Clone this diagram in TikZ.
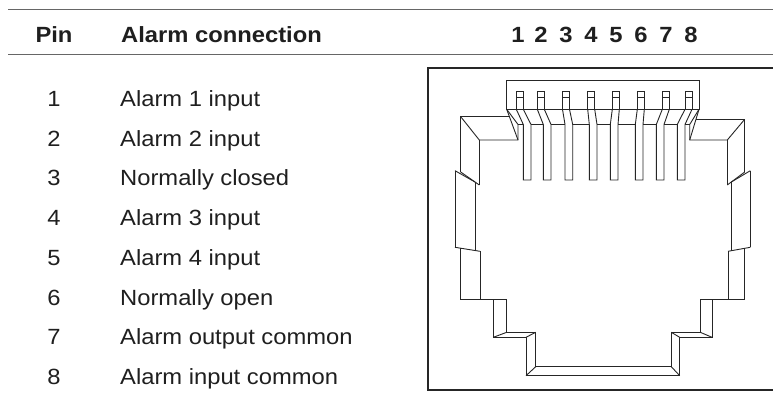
\documentclass[tikz,border=0pt]{standalone}
\usepackage{fontspec}
\setmainfont{Liberation Sans}[FakeStretch=1.08]
\begin{document}
\begin{tikzpicture}[x=1pt,y=-1pt,
  txt/.style={font=\fontsize{22}{26}\selectfont, text=black!88, inner sep=0pt},
  hdr/.style={font=\fontsize{22}{26}\selectfont\bfseries, text=black!88, inner sep=0pt},
  rule/.style={line width=1pt, draw=black!60},
  frame/.style={line width=2pt, draw=black!85},
  jack/.style={line width=0.9pt, draw=black!85, line join=miter}]
\useasboundingbox (0,0) rectangle (773,404);
\fill[white] (0,0) rectangle (773,404);
% header rules
\coordinate (t1) at (8,9.5);   \coordinate (t2) at (773,9.5);
\coordinate (u1) at (8,54.5);  \coordinate (u2) at (773,54.5);
\draw[rule] (t1) -- (t2);
\draw[rule] (u1) -- (u2);
% header texts
\node[hdr, anchor=base] (hpin) at (54,43) {Pin};
\node[hdr, anchor=base west] (hconn) at (121,43) {Alarm connection};
\foreach \i/\x in {1/518,2/541,3/566,4/591,5/616,6/641,7/666,8/691}
  \node[hdr, anchor=base] (hd\i) at (\x,43) {\i};
% rows
\foreach \i/\t in {1/Alarm 1 input,2/Alarm 2 input,3/Normally closed,4/Alarm 3 input,
                   5/Alarm 4 input,6/Normally open,7/Alarm output common,8/Alarm input common}{
  \node[txt, anchor=base] (p\i) at (54,{106.5+(\i-1)*39.7}) {\i};
  \node[txt, anchor=base west] (c\i) at (120,{106.5+(\i-1)*39.7}) {\t};
}
% frame (open to the right)
\coordinate (f1) at (773,67.5); \coordinate (f2) at (428,67.5);
\coordinate (f3) at (428,389.5); \coordinate (f4) at (773,389.5);
\draw[frame] (f1) -- (f2) -- (f3) -- (f4);
% connector body
\draw[jack] (506.7,80.7) rectangle (699,109.3);
% pin tops
\foreach \a in {516.3,537.3,562.5,587.7,612.3,637.3,662.3,685}{
  \draw[jack] (\a,109.3) -- (\a,91) -- (\a+7,91) -- (\a+7,109.3);
  \draw[jack] (\a,97.5) -- (\a+7,97.5);
}
% pin slants and legs
\foreach \a/\b in {516.3/523.3,537.3/543.3,562.5/565,587.7/589.3,612.3/610.3,637.3/635.3,662.3/656.3,685/677.3}{
  \draw[jack] (\a,109.3) -- (\b,124.5) -- (\b,180) -- (\b+7.7,180) -- (\b+7.7,124.5) -- (\a+7,109.3);
}
% shelf line between legs
\foreach \p/\q in {518/523.3,531/543.3,551/565,572.7/589.3,597/610.3,618/635.3,643/656.3,664/677.3,685/689.7}
  \draw[jack] (\p,124.5) -- (\q,124.5);
% left shoulder
\draw[jack] (509.5,116.7) -- (460.7,116.7) -- (460.7,172);
\draw[jack] (460.7,116.7) -- (479.3,140) -- (518,140) -- (518,124.5);
\draw[jack] (506.7,109.3) -- (518,140);
\draw[jack] (506.7,109.3) -- (518,124.5);
\draw[jack] (479.3,140) -- (479.3,185);
\draw[jack] (460.7,172) -- (479.3,185);
\draw[jack] (455,170.7) -- (475,182);
\draw[jack] (455,170.7) -- (455,247.3);
\draw[jack] (475,182) -- (475,250.5);
\draw[jack] (455,247.3) -- (480,251.3);
\draw[jack] (460.7,248.2) -- (460.7,299) -- (506.7,299);
\draw[jack] (480,251.3) -- (480,299);
% right shoulder
\draw[jack] (696,119.3) -- (744.7,119.3) -- (744.7,172);
\draw[jack] (744.7,119.3) -- (727.3,140) -- (689.7,140) -- (689.7,124.5);
\draw[jack] (699,109.3) -- (689.7,140);
\draw[jack] (699,109.3) -- (689.7,124.5);
\draw[jack] (727.3,140) -- (727.3,185);
\draw[jack] (744.7,172) -- (727.3,185);
\draw[jack] (750.3,170.7) -- (731.3,182);
\draw[jack] (750.3,170.7) -- (750.3,247.3);
\draw[jack] (731.3,182) -- (731.3,250.6);
\draw[jack] (750.3,247.3) -- (728,251.3);
\draw[jack] (744.7,248.3) -- (744.7,299) -- (700.3,299);
\draw[jack] (728,251.3) -- (728,299);
% bottom steps
\draw[jack] (493.3,299) -- (493.3,337.3) -- (526,337.3) -- (526,375.7) -- (679.7,375.7) -- (679.7,337.3) -- (712,337.3) -- (712,299);
\draw[jack] (506.7,299) -- (506.7,332.3) -- (535.7,332.3) -- (535.7,366.7) -- (671.3,366.7) -- (671.3,332.3) -- (700.3,332.3) -- (700.3,299);
\draw[jack] (493.3,337.3) -- (506.7,332.3);
\draw[jack] (526,337.3) -- (535.7,332.3);
\draw[jack] (526,375.7) -- (535.7,366.7);
\draw[jack] (679.7,375.7) -- (671.3,366.7);
\draw[jack] (679.7,337.3) -- (671.3,332.3);
\draw[jack] (712,337.3) -- (700.3,332.3);
\end{tikzpicture}
\end{document}
